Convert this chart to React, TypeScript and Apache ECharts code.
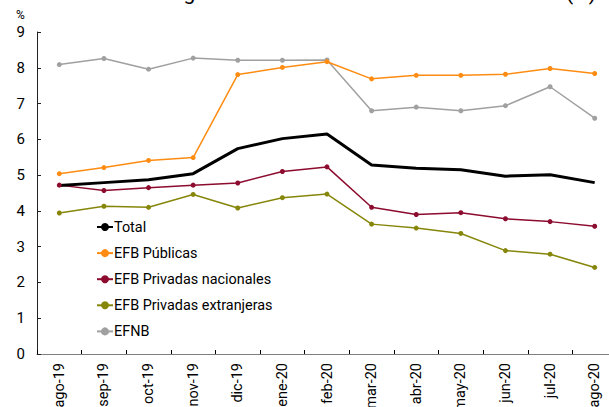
import React, { useEffect, useRef } from "react";
import * as echarts from "echarts";

const categories = ["ago-19", "sep-19", "oct-19", "nov-19", "dic-19", "ene-20", "feb-20", "mar-20", "abr-20", "may-20", "jun-20", "jul-20", "ago-20"];
const total = [4.71, 4.79, 4.87, 5.04, 5.74, 6.02, 6.15, 5.28, 5.19, 5.15, 4.97, 5.01, 4.79];
const efbPublicas = [5.04, 5.21, 5.41, 5.49, 7.81, 8.01, 8.17, 7.69, 7.79, 7.79, 7.82, 7.98, 7.84];
const efbPrivNacionales = [4.72, 4.57, 4.65, 4.72, 4.78, 5.1, 5.23, 4.1, 3.9, 3.95, 3.78, 3.7, 3.57];
const efbPrivExtranjeras = [3.94, 4.13, 4.1, 4.46, 4.08, 4.37, 4.47, 3.63, 3.52, 3.37, 2.89, 2.79, 2.42];
const efnb = [8.09, 8.26, 7.96, 8.27, 8.21, 8.21, 8.22, 6.8, 6.9, 6.8, 6.94, 7.47, 6.59];
const yTicks = [0, 1, 2, 3, 4, 5, 6, 7, 8, 9];

export default function App() {
  const ref = useRef<HTMLDivElement>(null);
  useEffect(() => {
    if (!ref.current) return;
    const chart = echarts.init(ref.current, null, { renderer: "svg" });
    const mk = (name: string, data: number[], color: string, width: number, sym: boolean) => ({
      name,
      type: "line",
      data,
      symbol: sym ? "circle" : "none",
      symbolSize: 5,
      showSymbol: sym,
      lineStyle: { color, width },
      itemStyle: { color },
    });
    chart.setOption({
      animation: false,
      textStyle: { fontFamily: "Roboto" },
      grid: { left: 37, top: 32, bottom: 53, right: -8, containLabel: false, outerBoundsMode: "none" },
      graphic: [
        { type: "text", left: 16, top: 9, style: { text: "%", fontSize: 12, fill: "#000", fontFamily: "Roboto" } },
        { type: "text", x: 596, y: 3, style: { text: "Índice de morosidad según tamaño de las entidades financieras (%)", fontSize: 21, fill: "#000", fontFamily: "Roboto", textAlign: "right", textVerticalAlign: "bottom" } },
      ],
      legend: {
        orient: "vertical",
        left: 91,
        top: 215,
        itemWidth: 16,
        itemHeight: 10,
        itemGap: 12.1,
        textStyle: { fontSize: 14.4, color: "#000", fontFamily: "Roboto", padding: [0, 0, 0, -4] },
        data: ["Total", "EFB Públicas", "EFB Privadas nacionales", "EFB Privadas extranjeras", "EFNB"],
      },
      xAxis: {
        type: "category",
        data: categories,
        boundaryGap: true,
        axisLine: { lineStyle: { color: "#7f7f7f", width: 1 } },
        axisTick: { show: true, inside: true, length: 4, lineStyle: { color: "#000" } },
        axisLabel: { rotate: 90, fontSize: 14.5, color: "#000", margin: 9, fontFamily: "Roboto" },
      },
      yAxis: {
        type: "value",
        min: yTicks[0],
        max: yTicks[yTicks.length - 1],
        interval: 1,
        splitLine: { show: false },
        axisLine: { show: true, lineStyle: { color: "#222", width: 1 } },
        axisTick: { show: true, inside: true, length: 4, lineStyle: { color: "#222" } },
        axisLabel: { fontSize: 15, color: "#000", margin: 12, fontFamily: "Roboto" },
      },
      series: [
        mk("EFNB", efnb, "#a0a0a0", 1.5, true),
        mk("EFB Públicas", efbPublicas, "#ff8c12", 1.5, true),
        mk("EFB Privadas extranjeras", efbPrivExtranjeras, "#86860a", 1.5, true),
        mk("EFB Privadas nacionales", efbPrivNacionales, "#8c0b2e", 1.5, true),
        mk("Total", total, "#000000", 3, false),
      ],
    });
    return () => chart.dispose();
  }, []);
  return <div ref={ref} style={{ width: 609, height: 407, position: "absolute", left: 0, top: 0 }} />;
}
